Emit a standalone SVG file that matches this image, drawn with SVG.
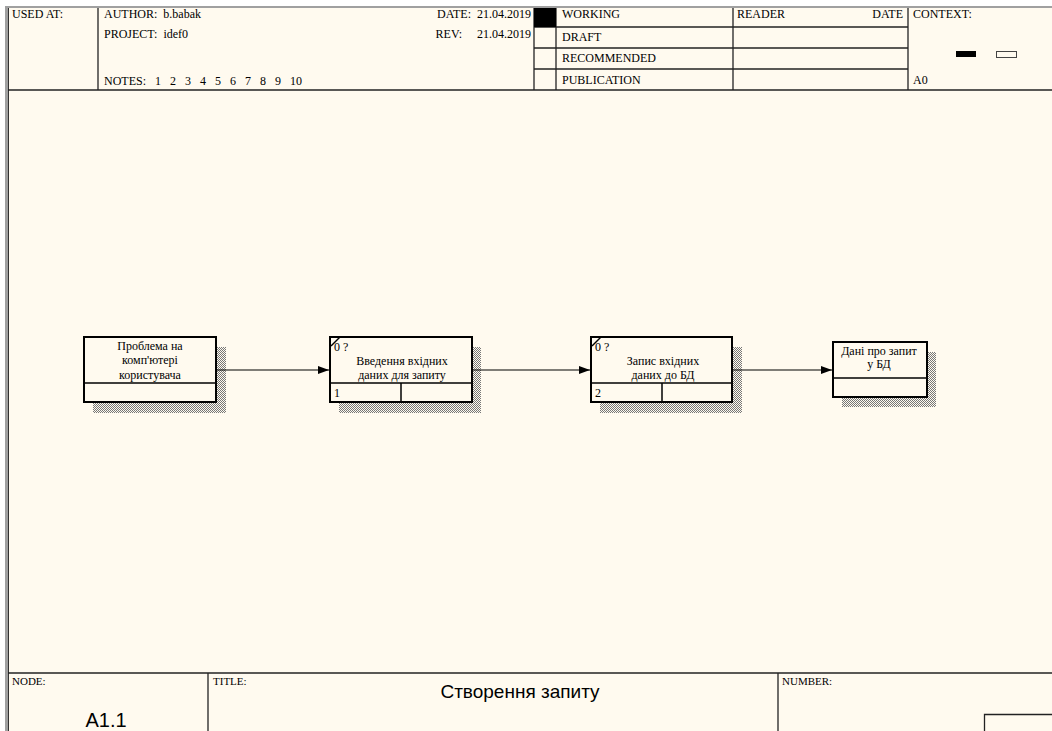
<svg xmlns="http://www.w3.org/2000/svg" width="1052" height="731" viewBox="0 0 1052 731">
<style>
text{white-space:pre}
.t{font-family:"Liberation Serif","Times New Roman",serif;font-size:12px;fill:#000}
.tc{font-family:"Liberation Serif","Times New Roman",serif;font-size:12px;fill:#000;text-anchor:middle}
.ln{stroke:#222;stroke-width:1.3;fill:none}
.box{fill:#fffaef;stroke:#000;stroke-width:2}
.in{stroke:#000;stroke-width:1.5;fill:none}
.cn{stroke:#000;stroke-width:1.2;fill:none}
</style>
<defs>
<pattern id="hatch" width="2" height="2" patternUnits="userSpaceOnUse">
<rect width="2" height="2" fill="#fffaef"/>
<rect width="1" height="1" fill="#777"/>
<rect x="1" y="1" width="1" height="1" fill="#777"/>
</pattern>
<marker id="arr" markerWidth="12" markerHeight="10" refX="11" refY="5" orient="auto" markerUnits="userSpaceOnUse">
<path d="M0,1 L11,5 L0,9 Z" fill="#000"/>
</marker>
</defs>
<rect width="1052" height="731" fill="#fff"/>
<rect x="5" y="6" width="1047" height="725" fill="#a0a0a0"/>
<rect x="8" y="8" width="1044" height="723" fill="#fffaef"/>
<line x1="8.5" y1="8" x2="8.5" y2="731" stroke="#333" stroke-width="1"/>
<g id="header">
<line class="ln" x1="8" y1="90" x2="1052" y2="90"/>
<line class="ln" x1="98" y1="8" x2="98" y2="90"/>
<line class="ln" x1="534" y1="8" x2="534" y2="90"/>
<line class="ln" x1="556" y1="8" x2="556" y2="90"/>
<line class="ln" x1="733" y1="8" x2="733" y2="90"/>
<line class="ln" x1="908" y1="8" x2="908" y2="90"/>
<line class="ln" x1="534" y1="27" x2="908" y2="27"/>
<line class="ln" x1="534" y1="48" x2="908" y2="48"/>
<line class="ln" x1="534" y1="69" x2="908" y2="69"/>
<rect x="534" y="8" width="22" height="19" fill="#000"/>
<text class="t" x="12" y="18">USED AT:</text>
<text class="t" x="104" y="18">AUTHOR:  b.babak</text>
<text class="t" x="104" y="38">PROJECT:  idef0</text>
<text class="t" x="104" y="85">NOTES:   1   2   3   4   5   6   7   8   9   10</text>
<text class="t" x="531" y="18" text-anchor="end">DATE:  21.04.2019</text>
<text class="t" x="531" y="38" text-anchor="end">REV:     21.04.2019</text>
<text class="t" x="562" y="18">WORKING</text>
<text class="t" x="562" y="41">DRAFT</text>
<text class="t" x="562" y="62">RECOMMENDED</text>
<text class="t" x="562" y="84">PUBLICATION</text>
<text class="t" x="737" y="18">READER</text>
<text class="t" x="903" y="18" text-anchor="end">DATE</text>
<text class="t" x="913" y="18">CONTEXT:</text>
<text class="t" x="913" y="84">A0</text>
<rect x="956" y="51" width="20" height="6" fill="#000"/>
<rect x="996.5" y="51.5" width="20" height="6" fill="#fffaef" stroke="#444" stroke-width="1"/>
</g>
<g id="footer">
<line class="ln" x1="8" y1="673" x2="1052" y2="673"/>
<line class="ln" x1="208" y1="673" x2="208" y2="731"/>
<line class="ln" x1="778" y1="673" x2="778" y2="731"/>
<polyline class="ln" points="984.5,731 984.5,714.5 1052,714.5"/>
<text x="12" y="685" style="font-family:'Liberation Serif',serif;font-size:11px">NODE:</text>
<text x="213" y="685" style="font-family:'Liberation Serif',serif;font-size:11px">TITLE:</text>
<text x="782" y="685" style="font-family:'Liberation Serif',serif;font-size:11px">NUMBER:</text>
<text x="520" y="698" text-anchor="middle" style="font-family:'Liberation Sans',Arial,sans-serif;font-size:19px">Створення запиту</text>
<text x="106" y="727" text-anchor="middle" style="font-family:'Liberation Sans',Arial,sans-serif;font-size:20px">A1.1</text>
</g>
<g id="node-problem">
<rect x="93" y="347" width="133" height="66" fill="url(#hatch)"/>
<rect class="box" x="84" y="337" width="132" height="65"/>
<line class="in" x1="84" y1="383" x2="216" y2="383"/>
<text class="tc" x="150" y="350">Проблема на</text>
<text class="tc" x="150" y="364">комп'ютері</text>
<text class="tc" x="150" y="379">користувача</text>
</g>
<g id="node-a1">
<rect x="339" y="347" width="142" height="66" fill="url(#hatch)"/>
<rect class="box" x="330" y="337" width="142" height="65"/>
<line class="in" x1="330" y1="383" x2="472" y2="383"/>
<line class="in" x1="401" y1="383" x2="401" y2="402"/>
<line class="in" x1="331" y1="346" x2="340" y2="337"/>
<text class="t" x="334" y="351">0 ?</text>
<text class="tc" x="402" y="365">Введення вхідних</text>
<text class="tc" x="402" y="379">даних для запиту</text>
<text class="t" x="334" y="397">1</text>
</g>
<g id="node-a2">
<rect x="600" y="347" width="142" height="66" fill="url(#hatch)"/>
<rect class="box" x="591" y="337" width="141" height="65"/>
<line class="in" x1="591" y1="383" x2="732" y2="383"/>
<line class="in" x1="662" y1="383" x2="662" y2="402"/>
<line class="in" x1="592" y1="346" x2="601" y2="337"/>
<text class="t" x="595" y="351">0 ?</text>
<text class="tc" x="663" y="365">Запис вхідних</text>
<text class="tc" x="663" y="379">даних до БД</text>
<text class="t" x="595" y="397">2</text>
</g>
<g id="node-data">
<rect x="842" y="352" width="94" height="55" fill="url(#hatch)"/>
<rect class="box" x="833" y="342" width="94" height="55"/>
<line class="in" x1="833" y1="378" x2="927" y2="378"/>
<text class="tc" x="879" y="355">Дані про запит</text>
<text class="tc" x="879" y="368">у БД</text>
</g>
<g id="connectors">
<line class="cn" x1="217" y1="370" x2="329" y2="370" marker-end="url(#arr)"/>
<line class="cn" x1="473" y1="370" x2="590" y2="370" marker-end="url(#arr)"/>
<line class="cn" x1="733" y1="370" x2="832" y2="370" marker-end="url(#arr)"/>
</g>
</svg>
